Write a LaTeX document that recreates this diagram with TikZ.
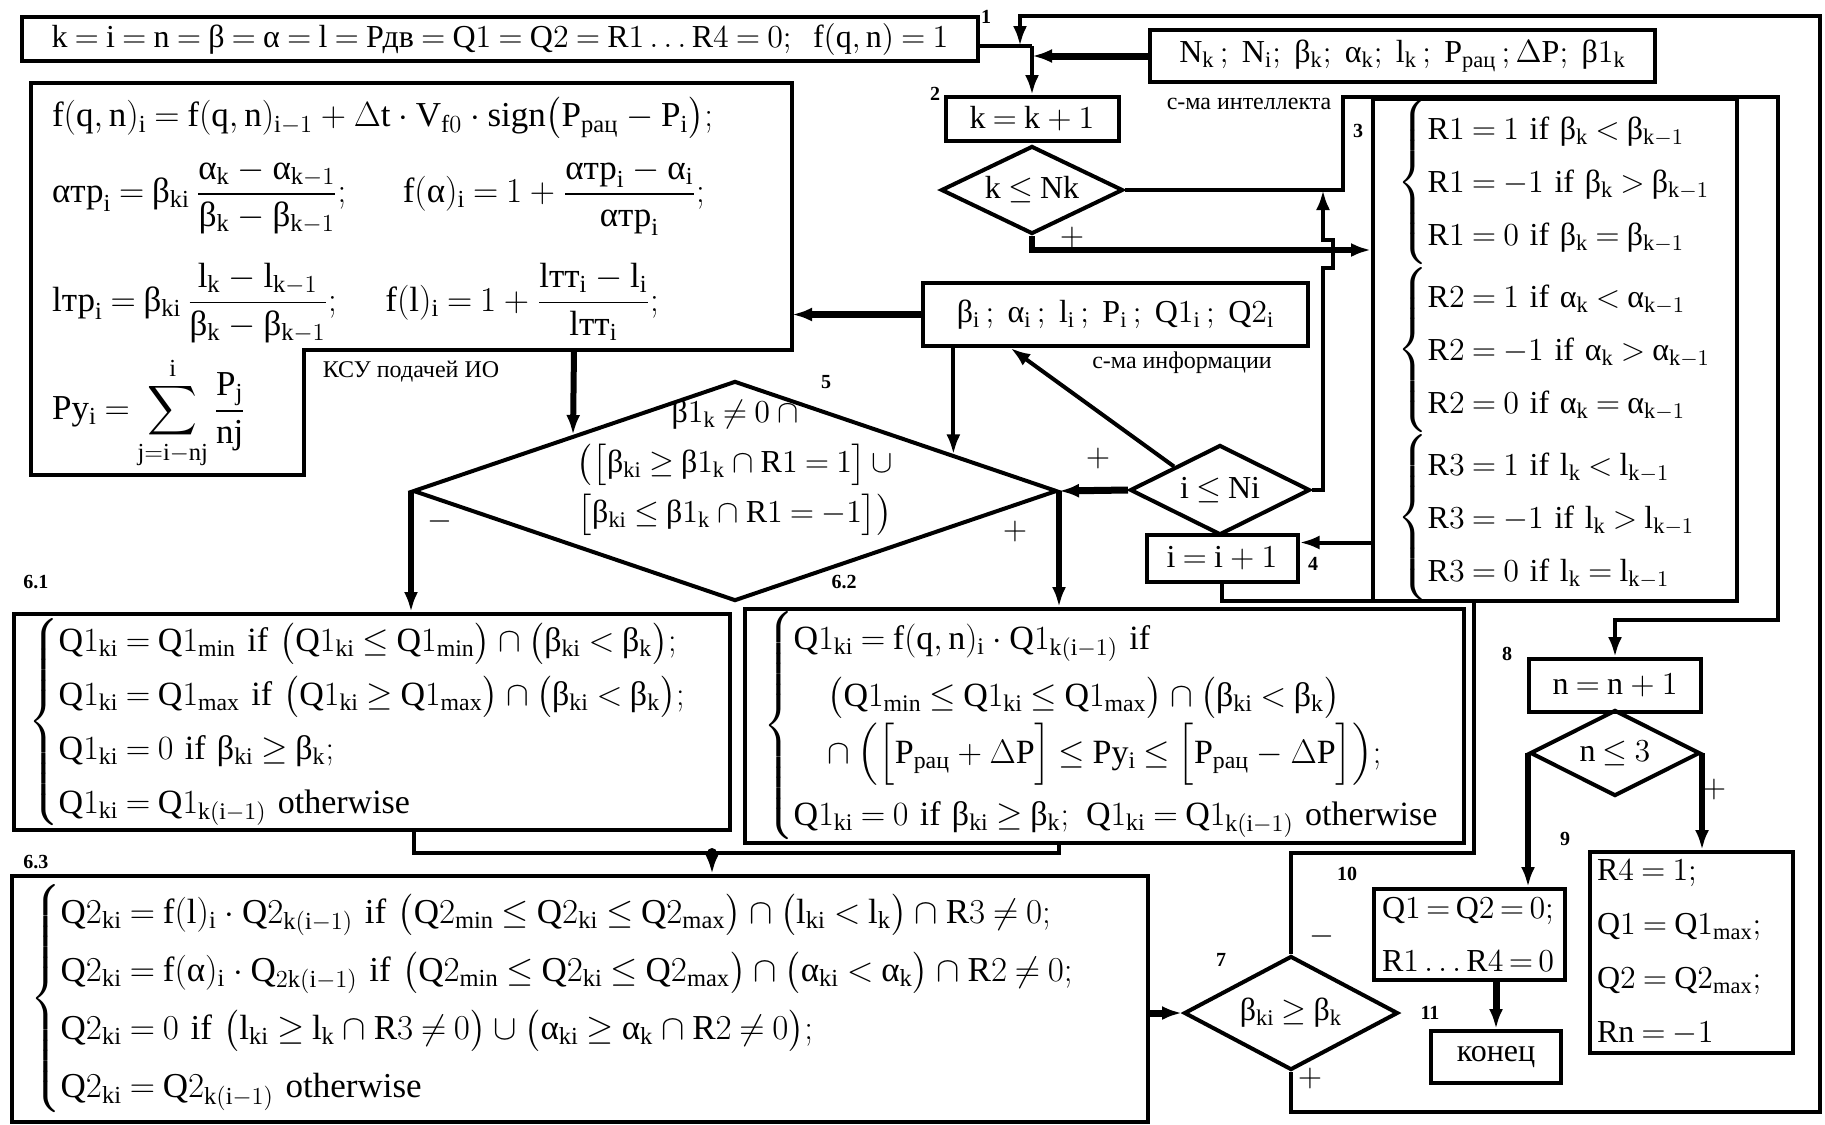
\documentclass[tikz,border=0pt]{standalone}
\usepackage{fix-cm}
\usepackage{amsmath}
\usepackage{fontspec}
\setmainfont{Liberation Serif}
\usetikzlibrary{shapes.geometric, arrows.meta, calc}

% upright Times-like letters and digits in the formulas
\DeclareSymbolFont{timesletters}{TU}{\rmdefault}{m}{n}
\newcount\lettercount
\lettercount=65
\loop \Umathcode\lettercount="0 \symtimesletters\lettercount
  \advance\lettercount by 1 \ifnum\lettercount<91 \repeat
\lettercount=97
\loop \Umathcode\lettercount="0 \symtimesletters\lettercount
  \advance\lettercount by 1 \ifnum\lettercount<123 \repeat
\lettercount=48
\loop \Umathcode\lettercount="0 \symtimesletters\lettercount
  \advance\lettercount by 1 \ifnum\lettercount<58 \repeat
\Umathchardef\alpha="0 \symtimesletters "03B1
\Umathchardef\beta="0 \symtimesletters "03B2
\Umathchardef\Delta="0 \symtimesletters "0394
\thickmuskip=4mu plus 2mu
\medmuskip=4mu plus 2mu

\newcommand\rac{\text{рац}}
\newcommand\formulafont{\fontsize{16}{19}\selectfont}
\newcommand\wideformulafont{\fontsize{17}{19}\selectfont}
\newcommand\widestformulafont{\fontsize{17.5}{19}\selectfont}
\newcommand\numfont{\fontsize{10}{12}\selectfont\bfseries}
\newcommand\notefont{\fontsize{12}{14}\selectfont}

\begin{document}
\begin{tikzpicture}[x=0.5pt, y=-0.5pt,
    every node/.style={font=\formulafont},
    block/.style={rectangle, draw, line width=2pt, inner sep=0pt},
    textblock/.style={block, align=left},
    decision/.style={diamond, draw, line width=2pt, inner sep=0pt, shape aspect=2},
    link/.style={line width=2pt},
    arrow/.style={link, -{Latex[length=10pt,width=7pt]}},
    heavyarrow/.style={arrow, line width=3.5pt},
    num/.style={font=\numfont},
    note/.style={font=\notefont}
]
\useasboundingbox (0,0) rectangle (1825,1124);

% blocks
\node[block, minimum width=478pt, minimum height=22pt] (init) at (500,39)
  {$k = i = n = \beta = \alpha = l = \text{Рдв} = Q1 = Q2 = R1\ldots R4 = 0;\ \ f(q,n) = 1$};
\node[block, minimum width=252.5pt, minimum height=26pt] (nk) at (1402.5,56)
  {$N_k\,;\ N_i;\ \beta_k;\ \alpha_k;\ l_k\,;\ P_{\rac}\,;\Delta P;\ \beta1_k$};
\node[note] (intlabel) at (1249,104) {с-ма интеллекта};
\node[block, minimum width=86.5pt, minimum height=22pt] (k1) at (1032,119) {$k = k + 1$};
\node[decision, minimum width=91pt, minimum height=44pt] (dk) at (1032,190) {$k \le Nk$};
\node[block, minimum width=192.5pt, minimum height=31.5pt] (info) at (1115.5,314.5)
  {$\beta_i\,;\ \alpha_i\,;\ l_i\,;\ P_i\,;\ Q1_i\,;\ Q2_i$};
\node[note] (infolabel) at (1182,363) {с-ма информации};

% KSU block
\draw[link] (31,83) -- (792,83) -- (792,350) -- (304,350) -- (304,475) -- (31,475) -- cycle;
\node[anchor=west, font=\widestformulafont] (ksuA) at (45,118)
  {$f(q,n)_i = f(q,n)_{i-1} + \Delta t\cdot V_{f0}\cdot sign\bigl(P_{\rac} - P_i\bigr);$};
\node[anchor=west, font=\widestformulafont] (ksuB) at (45,197)
  {$\alpha\text{тр}_i = \beta_{ki}\,\dfrac{\alpha_k - \alpha_{k-1}}{\beta_k - \beta_{k-1}};\quad\;\; f(\alpha)_i = 1 + \dfrac{\alpha\text{тр}_i - \alpha_i}{\alpha\text{тр}_i};$};
\node[anchor=west, font=\widestformulafont] (ksuC) at (45,303)
  {$l\text{тр}_i = \beta_{ki}\,\dfrac{l_k - l_{k-1}}{\beta_k - \beta_{k-1}};\quad\; f(l)_i = 1 + \dfrac{l\text{тт}_i - l_i}{l\text{тт}_i};$};
\node[anchor=west, font=\widestformulafont] (ksuD) at (45,413)
  {$\displaystyle Py_i = \sum_{j=i-nj}^{i}\frac{P_j}{nj}$};
\node[note] (ksulabel) at (411,372) {КСУ подачей ИО};
\coordinate (ksuE) at (792,314.5);
\coordinate (ksuS) at (574,350);

\node[decision, minimum width=322pt, minimum height=110pt] (d5) at (735,491) {};
\node[align=center, font=\fontsize{16}{25}\selectfont] (d5text) at (735,468)
  {$\beta1_k \ne 0\;\cap$\\$\bigl(\bigl[\beta_{ki} \ge \beta1_k \cap R1 = 1\bigr]\,\cup$\\$\bigl[\beta_{ki} \le \beta1_k \cap R1 = -1\bigr]\bigr)$};
\node[decision, minimum width=90pt, minimum height=45pt] (di) at (1220,490) {$i \le Ni$};
\node[block, minimum width=75.5pt, minimum height=23.5pt] (i1) at (1222,558.5) {$i = i + 1$};

\node[textblock, minimum height=243pt, inner xsep=12pt, text width=158pt] (box3) at (1555,350)
  {\def\arraystretch{1.4}%
   $\left\{\begin{array}{@{}l@{}}R1 = 1\text{ if }\beta_k < \beta_{k-1}\\ R1 = -1\text{ if }\beta_k > \beta_{k-1}\\ R1 = 0\text{ if }\beta_k = \beta_{k-1}\end{array}\right.$\\
   $\left\{\begin{array}{@{}l@{}}R2 = 1\text{ if }\alpha_k < \alpha_{k-1}\\ R2 = -1\text{ if }\alpha_k > \alpha_{k-1}\\ R2 = 0\text{ if }\alpha_k = \alpha_{k-1}\end{array}\right.$\\
   $\left\{\begin{array}{@{}l@{}}R3 = 1\text{ if }l_k < l_{k-1}\\ R3 = -1\text{ if }l_k > l_{k-1}\\ R3 = 0\text{ if }l_k = l_{k-1}\end{array}\right.$};

\node[textblock, minimum height=108pt, inner xsep=7pt, text width=344pt, font=\wideformulafont] (box61) at (372,722)
  {\def\arraystretch{1.42}%
   $\left\{\begin{array}{@{}l@{}}
   Q1_{ki} = Q1_{min}\text{ if }\bigl(Q1_{ki} \le Q1_{min}\bigr)\cap\bigl(\beta_{ki} < \beta_k\bigr);\\
   Q1_{ki} = Q1_{max}\text{ if }\bigl(Q1_{ki} \ge Q1_{max}\bigr)\cap\bigl(\beta_{ki} < \beta_k\bigr);\\
   Q1_{ki} = 0\text{ if }\beta_{ki} \ge \beta_k;\\
   Q1_{ki} = Q1_{k(i-1)}\text{ otherwise}
   \end{array}\right.$};
\node[textblock, minimum height=117pt, inner xsep=9pt, text width=341.5pt, font=\wideformulafont] (box62) at (1104.5,726)
  {\def\arraystretch{1.5}%
   $\left\{\begin{array}{@{}l@{}}
   Q1_{ki} = f(q,n)_i\cdot Q1_{k(i-1)}\text{ if}\\
   \quad\bigl(Q1_{min} \le Q1_{ki} \le Q1_{max}\bigr)\cap\bigl(\beta_{ki} < \beta_k\bigr)\\
   \quad\cap\;\Bigl(\Bigl[P_{\rac} + \Delta P\Bigr] \le Py_i \le \Bigl[P_{\rac} - \Delta P\Bigr]\Bigr);\\
   Q1_{ki} = 0\text{ if }\beta_{ki} \ge \beta_k;\ Q1_{ki} = Q1_{k(i-1)}\text{ otherwise}
   \end{array}\right.$};
\node[textblock, minimum height=123pt, inner xsep=9pt, text width=550pt, font=\widestformulafont] (box63) at (580,999)
  {\def\arraystretch{1.53}%
   $\left\{\begin{array}{@{}l@{}}
   Q2_{ki} = f(l)_i\cdot Q2_{k(i-1)}\text{ if }\bigl(Q2_{min} \le Q2_{ki} \le Q2_{max}\bigr)\cap\bigl(l_{ki} < l_k\bigr)\cap R3 \ne 0;\\
   Q2_{ki} = f(\alpha)_i\cdot Q_{2k(i-1)}\text{ if }\bigl(Q2_{min} \le Q2_{ki} \le Q2_{max}\bigr)\cap\bigl(\alpha_{ki} < \alpha_k\bigr)\cap R2 \ne 0;\\
   Q2_{ki} = 0\text{ if }\bigl(l_{ki} \ge l_k \cap R3 \ne 0\bigr)\cup\bigl(\alpha_{ki} \ge \alpha_k \cap R2 \ne 0\bigr);\\
   Q2_{ki} = Q2_{k(i-1)}\text{ otherwise}
   \end{array}\right.$};

\node[decision, minimum width=107pt, minimum height=57pt, shape aspect=1.88] (d7) at (1291,1013) {$\beta_{ki} \ge \beta_k$};
\node[block, minimum width=86pt, minimum height=26.5pt] (bn) at (1615,685.5) {$n = n + 1$};
\node[decision, minimum width=85pt, minimum height=43pt] (dn) at (1615,753) {$n \le 3$};
\node[textblock, minimum height=45.5pt, inner xsep=4pt, text width=87.5pt, font=\fontsize{16}{26.5}\selectfont] (bq) at (1469.5,934.5)
  {\thickmuskip=3mu\mbox{$Q1 = Q2 = 0;$}\\\mbox{$R1\ldots R4 = 0$}};
\node[block, minimum width=65pt, minimum height=26pt] (bend) at (1496,1057) {конец};
\node[textblock, minimum height=100.5pt, inner xsep=3.5pt, text width=94.5pt, font=\fontsize{16}{27}\selectfont] (br4) at (1691.5,952.5)
  {$R4 = 1;$\\$Q1 = Q1_{max};$\\$Q2 = Q2_{max};$\\$Rn = -1$};

% block numbers
\node[num] (n1) at (986,17) {1};
\node[num] (n2) at (935,94) {2};
\node[num] (n3) at (1358,131) {3};
\node[num] (n4) at (1313,564) {4};
\node[num] (n5) at (826,382) {5};
\node[num] (n61) at (36,582) {6.1};
\node[num] (n62) at (844,582) {6.2};
\node[num] (n63) at (36,862) {6.3};
\node[num] (n7) at (1221,960) {7};
\node[num] (n8) at (1507,654) {8};
\node[num] (n9) at (1565,839) {9};
\node[num] (n10) at (1347,874) {10};
\node[num] (n11) at (1430,1013) {11};

% branch signs
\node (pk) at (1072,237) {$+$};
\node (pi) at (1098,458) {$+$};
\node (p5) at (1015,531) {$+$};
\node (m5) at (440,521) {$-$};
\node (m7) at (1322,936) {$-$};
\node (p7) at (1310,1078) {$+$};
\node (pn) at (1714,789) {$+$};

% entry and outer loop
\coordinate (j1) at (1032,46);
\coordinate (jtop) at (1020,46);
\draw[link] (init.east |- j1) -- (j1);
\draw[arrow] (j1) -- (k1.north);
\draw[heavyarrow] (nk.west) -- (nk.west -| k1.north);
\draw[arrow] (d7.south) -- (d7.south |- 0,1112) -- (1820,1112) -- (1820,16) -- (jtop |- 0,16) -- (jtop);

% k loop
\draw[arrow] (dk.east) -- (1343,190) -- (1343,97) -- (1778,97) -- (1778,620) -- (bn.north |- 0,620) -- (bn.north);
\draw[heavyarrow, line width=3pt] (dk.south) -- (dk.south |- 0,250) -- (box3.west |- 0,250);
\draw[arrow] (di.east) -- (1323,490) -- (1323,268) -- (1333,268) -- (1333,240) -- (1323,240) -- (1323,190);

% i loop
\coordinate (i1in) at ($(i1.east)+(0,-16)$);
\draw[arrow] (box3.west |- i1in) -- (i1in);
\draw[heavyarrow] (di.west) -- (d5.east);
\draw[arrow] (di.north west) -- ($(info.south west)!0.23!(info.south east)$);
\draw[link] (i1.south) -- (i1.south |- 0,601) -- (1474,601) -- (1474,853) -- (d7.north |- 0,853) -- (d7.north);

% information to formulas
\draw[heavyarrow] (info.west) -- (ksuE);
\draw[heavyarrow, line width=3pt] (ksuS) -- (d5.north west);
\coordinate (d5in) at ($(d5.east)!0.326!(d5.north)$);
\draw[arrow] (d5in |- info.south) -- (d5in);

% decision 5 branches
\draw[heavyarrow, line width=3pt] (d5.west) -- (d5.west |- box61.north);
\draw[heavyarrow, line width=3pt] (d5.east) -- (d5.east |- box62.north);

% merge into 6.3
\coordinate (jm) at (712,853);
\draw[link] ($(box61.south)+(42,0)$) |- (jm) -| ($(box62.south)+(-46,0)$);
\fill (jm) circle[radius=2.5pt];
\draw[arrow] (jm) -- (jm |- box63.north);
\draw[heavyarrow] (box63.east |- d7.west) -- (d7.west);

% n loop
\draw[heavyarrow, line width=3pt] (dn.west) -- (dn.west |- bq.north);
\draw[heavyarrow, line width=3pt] (dn.east) -- (dn.east |- br4.north);
\draw[heavyarrow] (bend.north |- bq.south) -- (bend.north);
\end{tikzpicture}
\end{document}
